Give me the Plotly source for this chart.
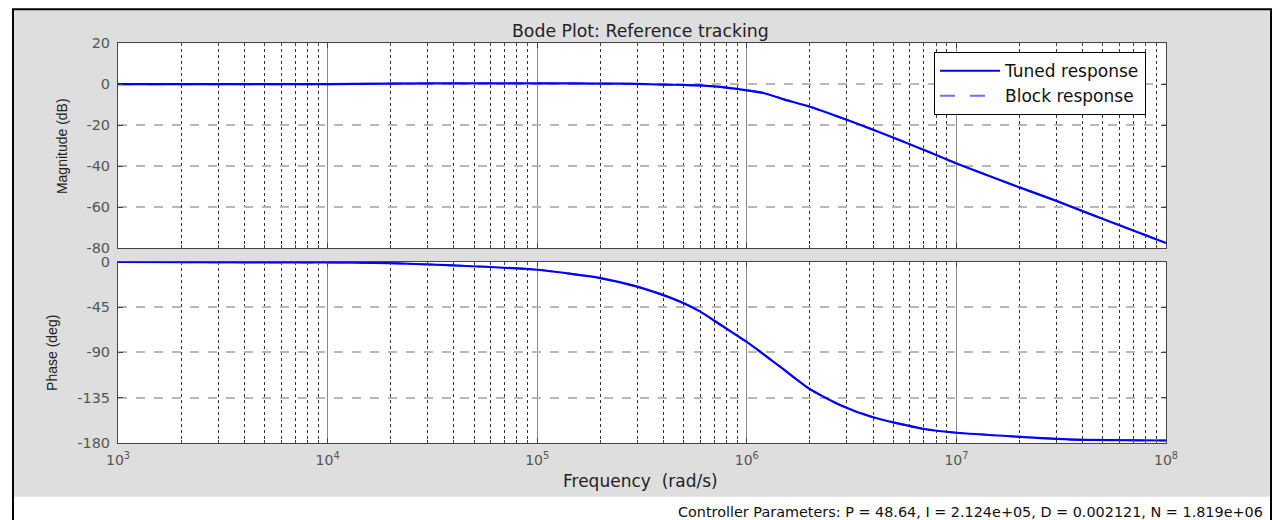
import plotly.graph_objects as go

# Frequency grid (rad/s) and the closed-loop reference tracking response
freq_mag = [1e3, 1e4, 2e4, 5e4, 1e5, 2e5, 3e5, 4e5, 5e5, 6e5, 7e5, 8e5, 1e6, 1.2e6,
            1.5e6, 2e6, 3e6, 4.3e6, 7e6, 1e7, 2e7, 3e7, 4e7, 5.7e7, 1e8]
mag_db = [0, 0, 0.3, 0.4, 0.4, 0.3, 0.1, -0.2, -0.4, -0.6, -1.1, -1.7, -3.0, -4.3,
          -7.4, -11, -17.4, -23.5, -32.1, -38.7, -50.4, -57, -62, -68, -77.6]

freq_ph = [1e3, 1e4, 2e4, 4e4, 1e5, 2e5, 3e5, 4e5, 5e5, 6e5, 7e5, 8.8e5, 1e6, 1.16e6,
           1.5e6, 2e6, 2.8e6, 4e6, 6.9e6, 1e7, 2e7, 3e7, 4e7, 1e8]
phase_deg = [0, -0.5, -1.2, -3.4, -7.7, -16, -24.5, -33, -41, -49.4, -58.5, -72, -79.5, -89.4,
             -107, -126.5, -142.5, -154.6, -166, -170, -174, -176, -177, -177.7]

mag_ticks = [-80, -60, -40, -20, 0, 20]
phase_ticks = [-180, -135, -90, -45, 0]
decades = [3, 4, 5, 6, 7, 8]

title_text = "Bode Plot: Reference tracking"
xlabel = "Frequency  (rad/s)"
params_text = "Controller Parameters: P = 48.64, I = 2.124e+05, D = 0.002121, N = 1.819e+06"

# Positions below are given in pixels of the displayed window and converted
# to paper fractions of the figure (which sits inside the page body margin).
W, H = 1284, 520
SX, OX = 0.9813, 12.0
SY, PADY = H / (H + 16), 8
def px(x):
    return ((x - OX) / SX) / W
def py(y):
    return 1 - (y / SY - PADY) / H

X0, X1 = 118, 1166
MAG_T, MAG_B = 43, 248
PH_T, PH_B = 262, 443

BLUE = "#0000ff"
BLUE_LIGHT = "#7070ff"
FONT = "Liberation Sans, Arial, sans-serif"
WIDE = "DejaVu Sans, Verdana, sans-serif"
TICKCOL = "#555555"

fig = go.Figure()

for f, v, xa, ya, show in [(freq_mag, mag_db, "x", "y", True), (freq_ph, phase_deg, "x2", "y2", False)]:
    fig.add_trace(go.Scatter(x=f, y=v, xaxis=xa, yaxis=ya, mode="lines", name="Block response",
                             line=dict(color=BLUE_LIGHT, width=2, dash="longdash", shape="spline", smoothing=0.6),
                             showlegend=show, legendrank=2, hoverinfo="skip"))
    fig.add_trace(go.Scatter(x=f, y=v, xaxis=xa, yaxis=ya, mode="lines", name="Tuned response",
                             line=dict(color=BLUE, width=2.2, shape="spline", smoothing=0.6),
                             showlegend=show, legendrank=1))

minor_vals = [k * 10 ** n for n in range(3, 8) for k in range(2, 10)]

def xaxis(domain_anchor, labels):
    return dict(
        type="log", range=[3, 8], domain=[px(X0), px(X1)], anchor=domain_anchor,
        tickvals=[10 ** d for d in decades],
        ticktext=[f"10<sup>{d}</sup>" for d in decades],
        showticklabels=labels, ticklabelstandoff=4,
        tickfont=dict(family=WIDE, size=14, color=TICKCOL),
        ticks="inside", ticklen=5, tickcolor="#444",
        showgrid=True, gridcolor="#8a8a8a", gridwidth=1,
        showline=True, linecolor="#444", linewidth=1, mirror="ticks",
        minor=dict(tickvals=minor_vals, showgrid=True, gridcolor="#333333", griddash="dot",
                   gridwidth=1, ticks="inside", ticklen=3, tickcolor="#444"),
        zeroline=False, fixedrange=True,
    )

def yaxis(domain, rng, tv, anchor):
    return dict(
        domain=domain, range=rng, tickvals=tv, ticktext=[str(t) for t in tv], anchor=anchor,
        tickfont=dict(family=WIDE, size=14.5, color=TICKCOL), ticklabelstandoff=4,
        ticks="inside", ticklen=5, tickcolor="#444",
        showgrid=True, gridcolor="#b8b8b8", griddash="dash", gridwidth=1.5,
        showline=True, linecolor="#444", linewidth=1, mirror="ticks",
        zeroline=False, fixedrange=True,
    )

shapes = [
    # grey window panel
    dict(type="rect", xref="paper", yref="paper", x0=0, x1=1, y0=py(497), y1=py(10),
         fillcolor="#dedede", line=dict(width=0), layer="below"),
    # white axes backgrounds
    dict(type="rect", xref="paper", yref="paper", x0=px(X0), x1=px(X1), y0=py(MAG_B), y1=py(MAG_T),
         fillcolor="white", line=dict(width=0), layer="below"),
    dict(type="rect", xref="paper", yref="paper", x0=px(X0), x1=px(X1), y0=py(PH_B), y1=py(PH_T),
         fillcolor="white", line=dict(width=0), layer="below"),
    # outer frame
    dict(type="rect", xref="paper", yref="paper", x0=1 / W, x1=1 - 1 / W, y0=-0.05, y1=py(9),
         fillcolor="rgba(0,0,0,0)", line=dict(color="#000", width=2), layer="above"),
]

def label(text, x, y, size, family, color="#222", angle=0, xanchor="center"):
    return dict(text=text, x=px(x), y=py(y), xref="paper", yref="paper", showarrow=False,
                xanchor=xanchor, yanchor="middle", textangle=angle,
                font=dict(family=family, size=size, color=color))

annotations = [
    label(title_text, 640, 31, 17.3, WIDE, "#222"),
    label(xlabel, 640, 481, 17, WIDE, "#222"),
    label("Magnitude (dB)", 62, 146, 14, FONT, "#222", angle=-90),
    label("Phase (deg)", 52, 353, 14, FONT, "#222", angle=-90),
    label(params_text, 1265, 512, 14.4, WIDE, "#111", xanchor="right"),
]

fig.update_layout(
    width=W, height=H, margin=dict(l=0, r=0, t=0, b=0),
    paper_bgcolor="white", plot_bgcolor="white",
    xaxis=xaxis("y", False),
    xaxis2=xaxis("y2", True),
    yaxis=yaxis([py(MAG_B), py(MAG_T)], [-80, 20], mag_ticks, "x"),
    yaxis2=yaxis([py(PH_B), py(PH_T)], [-180, 0], phase_ticks, "x2"),
    shapes=shapes, annotations=annotations,
    legend=dict(x=px(934), y=py(52), xanchor="left", yanchor="top", bgcolor="white",
                bordercolor="#000", borderwidth=1, itemwidth=60, tracegroupgap=0,
                font=dict(family=WIDE, size=17, color="#111")),
    showlegend=True,
)

fig.write_html("out.html")
